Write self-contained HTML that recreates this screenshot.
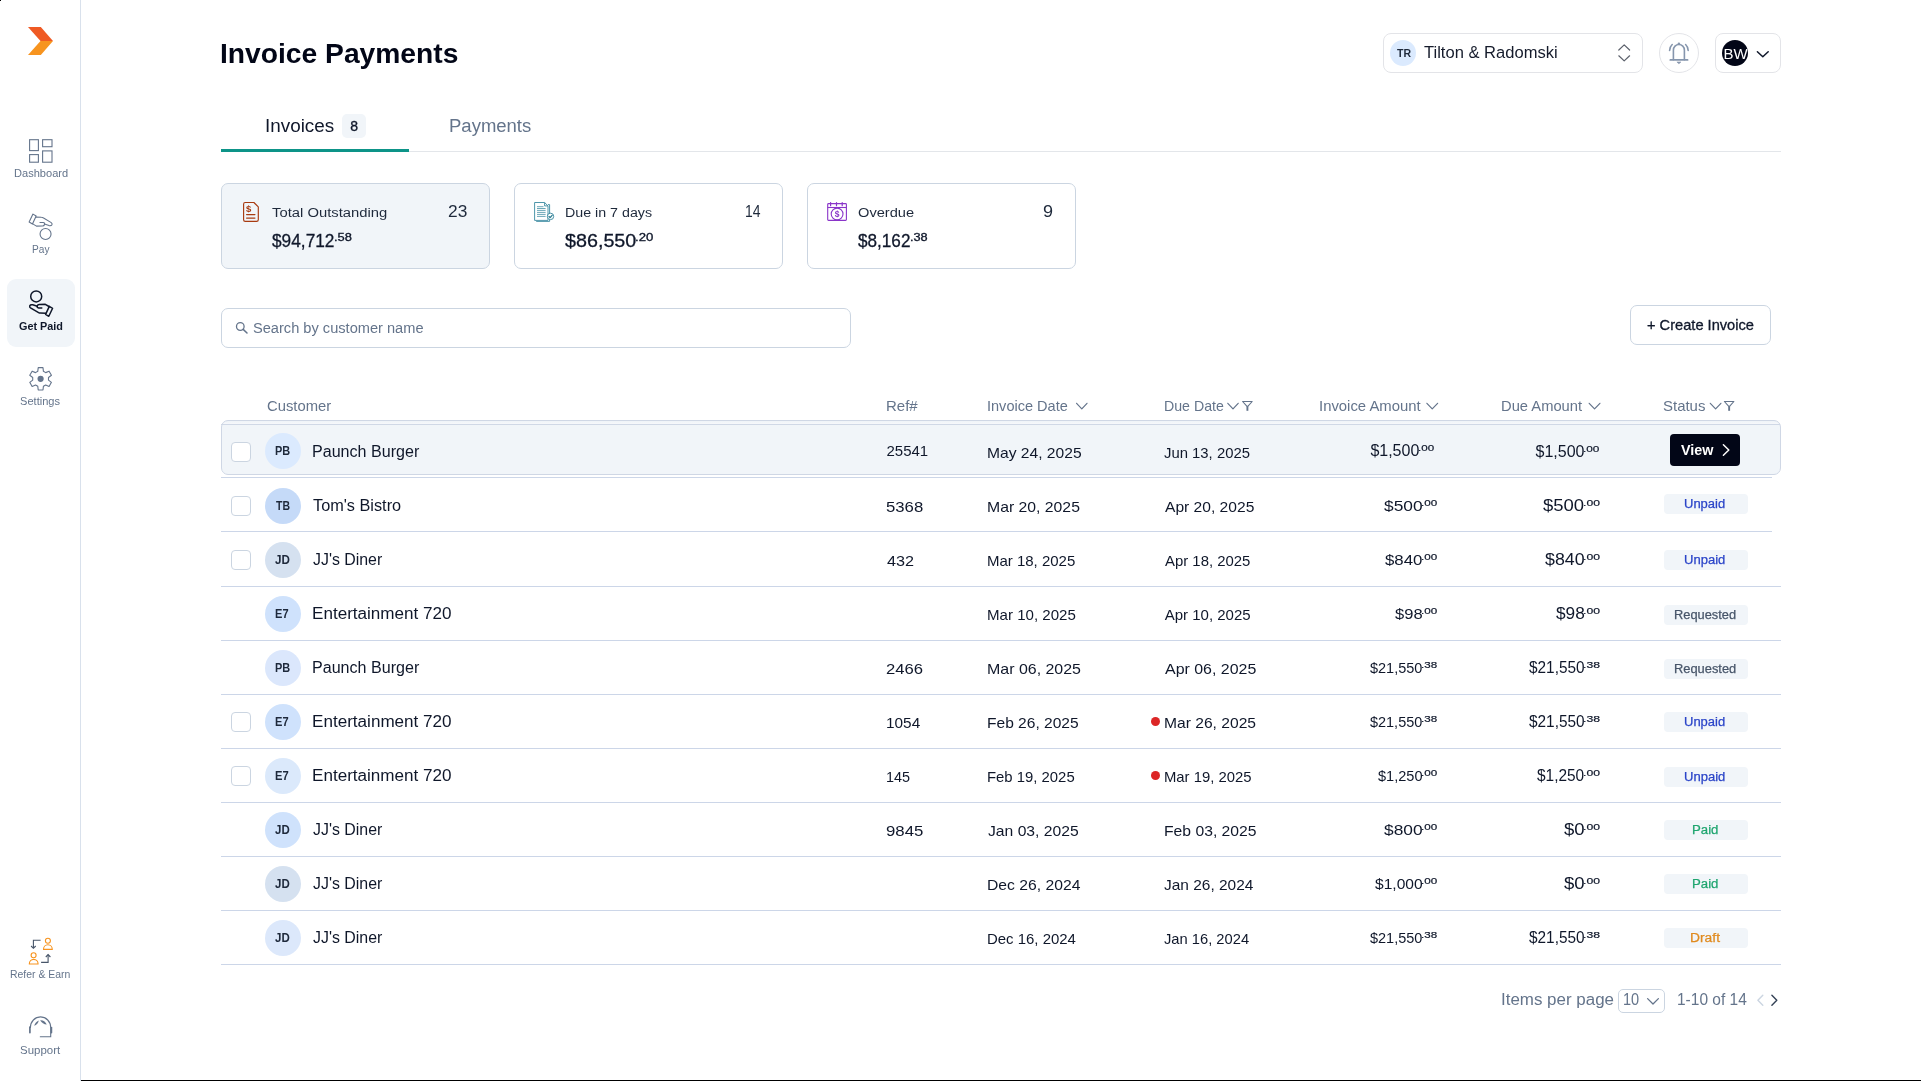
<!DOCTYPE html>
<html lang="en"><head><meta charset="utf-8"><title>Invoice Payments</title>
<style>html,body{margin:0;padding:0;background:#fff;}body{width:1921px;height:1081px;position:relative;overflow:hidden;font-family:"Liberation Sans", sans-serif;}div{box-sizing:border-box;}#app{position:absolute;left:0;top:0;width:1921px;height:1081px;will-change:transform;}</style></head><body><div id="app">
<div style="position:absolute;left:0px;top:0px;width:1px;height:1px;background:#000;"></div>
<div style="position:absolute;left:81px;top:1080px;width:1840px;height:1px;background:#000;"></div>
<div style="position:absolute;left:80px;top:0px;width:1px;height:1081px;background:#d9e1ec;"></div>
<svg style="position:absolute;left:0px;top:0px;overflow:visible" width="80" height="80" viewBox="0 0 80 80" fill="none"><polygon points="28,27 40.8,27 53,40.9 40.5,40.9" fill="#ef5a24"/><polygon points="40.5,40.9 53,40.9 40.8,55 28,55" fill="#f7941f"/></svg>
<svg style="position:absolute;left:0px;top:0px;overflow:visible" width="80" height="440" viewBox="0 0 80 440" fill="none"><g stroke="#64748b" stroke-width="1.1"><rect x="29.6" y="139.7" width="8.8" height="10.9"/><rect x="29.6" y="154.6" width="8.8" height="7.6"/><rect x="42.6" y="139.7" width="9.4" height="7"/><rect x="42.6" y="150.9" width="9.4" height="11.3"/></g><g transform="translate(40.75 227.2) rotate(180) translate(-41 -303.2)" stroke="#64748b" stroke-width="1.1" stroke-linejoin="round" stroke-linecap="round"><circle cx="36.2" cy="296.4" r="5.5"/><path d="M41.8 307.9 L38.6 307.9 Q36.7 307.6 37.2 305.9 Q37.7 304.4 39.2 304.4 L45.3 304.3 L49 306.5"/><path d="M37.3 306.3 L32.7 304.8 Q30.5 304.4 29.8 305.7 Q29.3 307 30.5 307.8 L38.6 312.6 Q39.4 313.1 40.3 313.1 L45.8 313.3"/><path d="M49.3 306.4 L52.6 308.3 L48.8 316.3 L45.6 314.4 Z"/></g></svg>
<div style="position:absolute;left:7px;top:279px;width:68px;height:68px;background:#f1f5f9;border-radius:9px;"></div>
<svg style="position:absolute;left:0px;top:0px;overflow:visible" width="80" height="440" viewBox="0 0 80 440" fill="none"><g stroke="#0f172a" stroke-width="1.5" stroke-linejoin="round" stroke-linecap="round"><circle cx="36.2" cy="296.4" r="5.5"/><path d="M41.8 307.9 L38.6 307.9 Q36.7 307.6 37.2 305.9 Q37.7 304.4 39.2 304.4 L45.3 304.3 L49 306.5"/><path d="M37.3 306.3 L32.7 304.8 Q30.5 304.4 29.8 305.7 Q29.3 307 30.5 307.8 L38.6 312.6 Q39.4 313.1 40.3 313.1 L45.8 313.3"/><path d="M49.3 306.4 L52.6 308.3 L48.8 316.3 L45.6 314.4 Z"/></g></svg>
<svg style="position:absolute;left:0px;top:0px;overflow:visible" width="80" height="440" viewBox="0 0 80 440" fill="none"><polygon points="37.78,371.31 38.22,367.65 42.98,367.65 43.42,371.31 45.67,372.62 49.07,371.17 51.44,375.28 48.49,377.50 48.49,380.10 51.44,382.32 49.07,386.43 45.67,384.98 43.42,386.29 42.98,389.95 38.22,389.95 37.78,386.29 35.53,384.98 32.13,386.43 29.76,382.32 32.71,380.10 32.71,377.50 29.76,375.28 32.13,371.17 35.53,372.62" stroke="#64748b" stroke-width="1.1" stroke-linejoin="round"/><circle cx="40.6" cy="378.8" r="3.1" fill="#64748b"/></svg>
<div style="position:absolute;left:14.04px;top:168.31px;font-size:10.5px;line-height:1;color:#64748b;white-space:nowrap;transform:scaleX(1.0535);transform-origin:0 0;">Dashboard</div>
<div style="position:absolute;left:32.32px;top:244.31px;font-size:10.5px;line-height:1;color:#64748b;white-space:nowrap;transform:scaleX(0.9641);transform-origin:0 0;">Pay</div>
<div style="position:absolute;left:19.16px;top:322.18px;font-size:10.3px;line-height:1;color:#0f172a;white-space:nowrap;font-weight:700;transform:scaleX(1.0525);transform-origin:0 0;">Get Paid</div>
<div style="position:absolute;left:20.43px;top:395.91px;font-size:10.5px;line-height:1;color:#64748b;white-space:nowrap;transform:scaleX(1.0551);transform-origin:0 0;">Settings</div>
<div style="position:absolute;left:10.36px;top:968.91px;font-size:10.5px;line-height:1;color:#64748b;white-space:nowrap;transform:scaleX(0.9934);transform-origin:0 0;">Refer &amp; Earn</div>
<div style="position:absolute;left:20.34px;top:1045.01px;font-size:10.5px;line-height:1;color:#64748b;white-space:nowrap;transform:scaleX(1.0913);transform-origin:0 0;">Support</div>
<svg style="position:absolute;left:0px;top:900px;overflow:visible" width="80" height="181" viewBox="0 900 80 181" fill="none"><g stroke="#f7931e" stroke-width="1.1"><circle cx="47.9" cy="940.8" r="2.5"/><path d="M43.5 949.4 A4.4 4.6 0 0 1 52.3 949.4 Z" stroke-linejoin="round"/><circle cx="33.6" cy="955.3" r="2.5"/><path d="M29.3 964 A4.4 4.6 0 0 1 38.1 964 Z" stroke-linejoin="round"/></g><g stroke="#475569" stroke-width="1.1"><path d="M40.6 940.3 H33.4 V948"/><path d="M31.1 946 L33.4 948.3 L35.7 946"/><path d="M41.1 962.4 H48.1 V954.7"/><path d="M45.8 957 L48.1 954.6 L50.4 957"/></g><g stroke="#64748b" stroke-width="1.1" stroke-linecap="round"><path d="M30.4 1027.5 A10.15 10.6 0 0 1 50.7 1027.5 V1036.7 H40.3"/><path d="M29.9 1027 V1032.6" stroke-width="1.7"/><path d="M51.4 1027.6 V1032.6" stroke-width="1.7"/></g><path d="M34.2 1025.8 Q35 1022 38.8 1020.4 Q38 1024 34.2 1025.8 Z" fill="#64748b"/><path d="M40.1 1020.2 Q44.5 1019.8 46.8 1024.6 Q42.5 1024.2 40.1 1020.2 Z" fill="#64748b"/></svg>
<div style="position:absolute;left:219.87px;top:39.60px;font-size:28px;line-height:1;color:#020617;white-space:nowrap;font-weight:700;transform:scaleX(1.0077);transform-origin:0 0;">Invoice Payments</div>
<div style="position:absolute;left:1383px;top:33px;width:260px;height:40px;border:1px solid #e3e4e8;border-radius:8px;background:#fff;"></div>
<div style="position:absolute;left:1390px;top:40px;width:26px;height:26px;border-radius:50%;background:#dbeafe;"></div>
<div style="position:absolute;left:1397.30px;top:47.69px;font-size:11px;line-height:1;color:#1e293b;white-space:nowrap;font-weight:700;transform:scaleX(0.9583);transform-origin:0 0;">TR</div>
<div style="position:absolute;left:1423.98px;top:44.00px;font-size:16.3px;line-height:1;color:#151b2b;white-space:nowrap;transform:scaleX(1.0163);transform-origin:0 0;">Tilton &amp; Radomski</div>
<svg style="position:absolute;left:1610px;top:40px;overflow:visible" width="30" height="26" viewBox="1610 40 30 26" fill="none"><g stroke="#5b606b" stroke-width="1.2" stroke-linecap="round" stroke-linejoin="round"><path d="M1618.8 50 L1624.2 44.9 L1629.6 50"/><path d="M1618.8 55.8 L1624.2 60.9 L1629.6 55.8"/></g></svg>
<div style="position:absolute;left:1659px;top:33px;width:40px;height:40px;border:1px solid #e3e4e8;border-radius:50%;background:#fff;"></div>
<svg style="position:absolute;left:1659px;top:33px;overflow:visible" width="40" height="40" viewBox="1659 33 40 40" fill="none"><g stroke="#8696ad" stroke-width="1.6" stroke-linecap="round" stroke-linejoin="round"><path d="M1673.4 59.8 V50.2 A5.5 5.7 0 0 1 1684.4 50.2 V59.8"/><path d="M1670.3 59.9 H1687.6" stroke-width="1.7"/><path d="M1669.6 50.4 Q1669.7 46.8 1672.2 44.5"/><path d="M1688.2 50.4 Q1688.1 46.8 1685.6 44.5"/></g><circle cx="1678.9" cy="43.6" r="1.2" fill="#8696ad"/><path d="M1676.9 62 H1680.9 L1678.9 63.8 Z" fill="#8696ad" stroke="#8696ad" stroke-width="0.6" stroke-linejoin="round"/></svg>
<div style="position:absolute;left:1715px;top:33px;width:66px;height:40px;border:1px solid #e3e4e8;border-radius:8px;background:#fff;"></div>
<div style="position:absolute;left:1721.6px;top:39.6px;width:26.2px;height:26.2px;border-radius:50%;background:#020617;overflow:hidden;"><div style="position:absolute;left:1.9px;top:6.4px;font-size:15px;line-height:1;color:#fff;white-space:nowrap;letter-spacing:0px;">BW</div></div>
<svg style="position:absolute;left:1750px;top:40px;overflow:visible" width="26" height="26" viewBox="1750 40 26 26" fill="none"><path d="M1757.4 51.7 L1762.8 56.8 L1768.2 51.7" stroke="#0f172a" stroke-width="1.5" stroke-linecap="round" stroke-linejoin="round"/></svg>
<div style="position:absolute;left:221px;top:151px;width:1560px;height:1px;background:#e3e6ea;"></div>
<div style="position:absolute;left:221px;top:149px;width:188px;height:3px;background:#0d9488;"></div>
<div style="position:absolute;left:264.82px;top:116.76px;font-size:18px;line-height:1;color:#0f172a;white-space:nowrap;transform:scaleX(1.0487);transform-origin:0 0;">Invoices</div>
<div style="position:absolute;left:342px;top:114px;width:24px;height:24px;background:#f1f5f9;border-radius:5px;"></div>
<div style="position:absolute;left:350.31px;top:119.15px;font-size:14px;line-height:1;color:#0f172a;white-space:nowrap;-webkit-text-stroke:0.35px #0f172a;">8</div>
<div style="position:absolute;left:449.36px;top:116.76px;font-size:18px;line-height:1;color:#64748b;white-space:nowrap;transform:scaleX(1.0279);transform-origin:0 0;">Payments</div>
<div style="position:absolute;left:221px;top:183px;width:269px;height:86px;border:1px solid #cbd5e1;border-radius:7px;background:#f1f5f9;"></div>
<div style="position:absolute;left:514px;top:183px;width:269px;height:86px;border:1px solid #cbd5e1;border-radius:7px;background:#fff;"></div>
<div style="position:absolute;left:807px;top:183px;width:269px;height:86px;border:1px solid #cbd5e1;border-radius:7px;background:#fff;"></div>
<svg style="position:absolute;left:240px;top:198px;overflow:visible" width="24" height="28" viewBox="240 198 24 28" fill="none"><g stroke="#a83a10" stroke-width="1.15" stroke-linejoin="round" stroke-linecap="round"><path d="M245.2 202.5 H253.9 L258.3 206.9 V219.7 Q258.3 221.4 256.6 221.4 H245.2 Q243.6 221.4 243.6 219.7 V204.2 Q243.6 202.5 245.2 202.5 Z"/><path d="M246.6 214.6 H254.9" stroke-width="1.3"/><path d="M246.6 218.1 H254.9" stroke-width="1.3"/></g></svg>
<div style="position:absolute;left:245.96px;top:203.86px;font-size:9.5px;line-height:1;color:#a83a10;white-space:nowrap;font-weight:700;">$</div>
<div style="position:absolute;left:271.64px;top:206.00px;font-size:13.7px;line-height:1;color:#1e293b;white-space:nowrap;transform:scaleX(1.0818);transform-origin:0 0;">Total Outstanding</div>
<div style="position:absolute;left:447.98px;top:204.06px;font-size:16px;line-height:1;color:#1e293b;white-space:nowrap;transform:scaleX(1.0836);transform-origin:0 0;">23</div>
<div style="position:absolute;left:272.20px;top:231.64px;font-size:18.5px;line-height:1;color:#0f172a;white-space:nowrap;transform:scaleX(0.9340);transform-origin:0 0;-webkit-text-stroke:0.3px #0f172a;">$94,712</div>
<div style="position:absolute;left:333.67px;top:233.14px;font-size:10px;line-height:1;color:#0f172a;white-space:nowrap;transform:scaleX(1.2892);transform-origin:0 0;-webkit-text-stroke:0.3px #0f172a;">.58</div>
<svg style="position:absolute;left:530px;top:198px;overflow:visible" width="26" height="28" viewBox="530 198 26 28" fill="none"><g stroke="#4590a5" stroke-width="0.95" stroke-linejoin="round"><path d="M536.2 221.4 H549.6 V204.6 H548" /><path d="M534.6 202.5 H544.6 L548 205.9 V220.4 H534.6 Z" fill="#fff"/><path d="M544.6 202.5 V205.9 H548" /><path d="M537 206.7 H543.5 M537 208.5 H545.6 M537 210.4 H545.6 M537 212.4 H545.6 M537 214.4 H545.6 M537 216.4 H545.6" stroke-width="0.8"/><circle cx="550.5" cy="216.4" r="3.2" fill="#fff" stroke-width="1.0"/><path d="M549 216.5 L550.1 217.6 L552.1 215.3" stroke="#2b7b90" stroke-width="1.25" stroke-linecap="round"/></g></svg>
<div style="position:absolute;left:564.65px;top:206.00px;font-size:13.7px;line-height:1;color:#1e293b;white-space:nowrap;transform:scaleX(1.0403);transform-origin:0 0;">Due in 7 days</div>
<div style="position:absolute;left:744.59px;top:204.06px;font-size:16px;line-height:1;color:#1e293b;white-space:nowrap;transform:scaleX(0.8717);transform-origin:0 0;">14</div>
<div style="position:absolute;left:565.18px;top:231.64px;font-size:18.5px;line-height:1;color:#0f172a;white-space:nowrap;transform:scaleX(1.0660);transform-origin:0 0;-webkit-text-stroke:0.3px #0f172a;">$86,550</div>
<div style="position:absolute;left:634.85px;top:233.14px;font-size:10px;line-height:1;color:#0f172a;white-space:nowrap;transform:scaleX(1.3159);transform-origin:0 0;-webkit-text-stroke:0.3px #0f172a;">.20</div>
<svg style="position:absolute;left:824px;top:198px;overflow:visible" width="26" height="28" viewBox="824 198 26 28" fill="none"><g stroke="#8a35c9" stroke-width="1.1" stroke-linejoin="round"><rect x="827.7" y="203.6" width="18.7" height="16.8" rx="0.8"/><path d="M827.7 207.5 H846.4"/><path d="M830.6 202.5 V205.7 M836.5 202.5 V205.7 M842.2 202.5 V205.7" stroke-linecap="round" stroke-width="1.2"/><circle cx="837.1" cy="214" r="5.9"/></g></svg>
<div style="position:absolute;left:834.74px;top:209.90px;font-size:8.5px;line-height:1;color:#8a35c9;white-space:nowrap;font-weight:700;">$</div>
<div style="position:absolute;left:857.89px;top:206.00px;font-size:13.7px;line-height:1;color:#1e293b;white-space:nowrap;transform:scaleX(1.0685);transform-origin:0 0;">Overdue</div>
<div style="position:absolute;left:1043.27px;top:204.06px;font-size:16px;line-height:1;color:#1e293b;white-space:nowrap;transform:scaleX(1.1268);transform-origin:0 0;">9</div>
<div style="position:absolute;left:858.46px;top:231.64px;font-size:18.5px;line-height:1;color:#0f172a;white-space:nowrap;transform:scaleX(0.9269);transform-origin:0 0;-webkit-text-stroke:0.3px #0f172a;">$8,162</div>
<div style="position:absolute;left:909.88px;top:233.14px;font-size:10px;line-height:1;color:#0f172a;white-space:nowrap;transform:scaleX(1.2711);transform-origin:0 0;-webkit-text-stroke:0.3px #0f172a;">.38</div>
<div style="position:absolute;left:221px;top:308px;width:630px;height:40px;border:1px solid #cbd5e1;border-radius:7px;background:#fff;"></div>
<svg style="position:absolute;left:232px;top:318px;overflow:visible" width="20" height="20" viewBox="232 318 20 20" fill="none"><circle cx="240.3" cy="326.5" r="3.8" stroke="#64748b" stroke-width="1.3"/><path d="M243.2 329.4 L247.0 333.0" stroke="#64748b" stroke-width="1.5" stroke-linecap="round"/></svg>
<div style="position:absolute;left:252.98px;top:320.95px;font-size:14px;line-height:1;color:#64748b;white-space:nowrap;transform:scaleX(1.0437);transform-origin:0 0;">Search by customer name</div>
<div style="position:absolute;left:1630px;top:305px;width:141px;height:40px;border:1px solid #cbd5e1;border-radius:7px;background:#fff;"></div>
<div style="position:absolute;left:1647.07px;top:318.08px;font-size:14.2px;line-height:1;color:#0f172a;white-space:nowrap;transform:scaleX(1.0313);transform-origin:0 0;-webkit-text-stroke:0.3px #0f172a;">+ Create Invoice</div>
<div style="position:absolute;left:267.22px;top:398.90px;font-size:14.3px;line-height:1;color:#64748b;white-space:nowrap;transform:scaleX(1.0355);transform-origin:0 0;">Customer</div>
<div style="position:absolute;left:886.25px;top:398.90px;font-size:14.3px;line-height:1;color:#64748b;white-space:nowrap;transform:scaleX(1.0491);transform-origin:0 0;">Ref#</div>
<div style="position:absolute;left:987.38px;top:398.90px;font-size:14.3px;line-height:1;color:#64748b;white-space:nowrap;transform:scaleX(1.0163);transform-origin:0 0;">Invoice Date</div>
<div style="position:absolute;left:1163.85px;top:398.90px;font-size:14.3px;line-height:1;color:#64748b;white-space:nowrap;transform:scaleX(0.9911);transform-origin:0 0;">Due Date</div>
<div style="position:absolute;left:1319.37px;top:398.90px;font-size:14.3px;line-height:1;color:#64748b;white-space:nowrap;transform:scaleX(1.0398);transform-origin:0 0;">Invoice Amount</div>
<div style="position:absolute;left:1500.67px;top:398.90px;font-size:14.3px;line-height:1;color:#64748b;white-space:nowrap;transform:scaleX(1.0305);transform-origin:0 0;">Due Amount</div>
<div style="position:absolute;left:1663.40px;top:398.90px;font-size:14.3px;line-height:1;color:#64748b;white-space:nowrap;transform:scaleX(1.0465);transform-origin:0 0;">Status</div>
<svg style="position:absolute;left:221px;top:395px;overflow:visible" width="1560" height="25" viewBox="221 395 1560 25" fill="none"><path d="M1076.6 403.3 L1081.8 408.9 L1087.0 403.3" stroke="#64748b" stroke-width="1.2" stroke-linecap="round" stroke-linejoin="round"/><path d="M1227.8 403.3 L1233.0 408.9 L1238.2 403.3" stroke="#64748b" stroke-width="1.2" stroke-linecap="round" stroke-linejoin="round"/><path d="M1242.6 401.5 H1252.2 L1248.0 406.2 H1246.8000000000002 Z" stroke="#64748b" stroke-width="1.1" stroke-linejoin="round"/><path d="M1247.4 406.2 V410.8" stroke="#64748b" stroke-width="1.9"/><path d="M1426.9 403.3 L1432.25 408.9 L1437.6 403.3" stroke="#64748b" stroke-width="1.2" stroke-linecap="round" stroke-linejoin="round"/><path d="M1589.2 403.3 L1594.5500000000002 408.9 L1599.9 403.3" stroke="#64748b" stroke-width="1.2" stroke-linecap="round" stroke-linejoin="round"/><path d="M1710.3 403.3 L1715.6 408.9 L1720.9 403.3" stroke="#64748b" stroke-width="1.2" stroke-linecap="round" stroke-linejoin="round"/><path d="M1724.4 401.5 H1733.9 L1729.75 406.2 H1728.5500000000002 Z" stroke="#64748b" stroke-width="1.1" stroke-linejoin="round"/><path d="M1729.15 406.2 V410.8" stroke="#64748b" stroke-width="1.9"/></svg>
<div style="position:absolute;left:221px;top:420px;width:1560px;height:55px;border:1px solid #cfd7e5;border-radius:7px;background:linear-gradient(to bottom,#eff3f8 0px,#f6f8fb 3px,#f1f5f9 3px);"></div>
<div style="position:absolute;left:221px;top:424px;width:1559px;height:1px;background:#d0d8e6;"></div>
<div style="position:absolute;left:221px;top:477px;width:1551px;height:1px;background:#ccd6e8;"></div>
<div style="position:absolute;left:221px;top:531px;width:1551px;height:1px;background:#ccd6e8;"></div>
<div style="position:absolute;left:221px;top:586px;width:1560px;height:1px;background:#ccd6e8;"></div>
<div style="position:absolute;left:221px;top:640px;width:1560px;height:1px;background:#ccd6e8;"></div>
<div style="position:absolute;left:221px;top:694px;width:1560px;height:1px;background:#ccd6e8;"></div>
<div style="position:absolute;left:221px;top:748px;width:1560px;height:1px;background:#ccd6e8;"></div>
<div style="position:absolute;left:221px;top:802px;width:1560px;height:1px;background:#ccd6e8;"></div>
<div style="position:absolute;left:221px;top:856px;width:1560px;height:1px;background:#ccd6e8;"></div>
<div style="position:absolute;left:221px;top:910px;width:1560px;height:1px;background:#ccd6e8;"></div>
<div style="position:absolute;left:221px;top:964px;width:1560px;height:1px;background:#ccd6e8;"></div>
<div style="position:absolute;left:231px;top:441.8px;width:20px;height:20px;border:1px solid #cbd5e1;border-radius:4px;background:#fff;"></div>
<div style="position:absolute;left:264.6px;top:433px;width:36px;height:36px;border-radius:50%;background:#dbeafe;"></div>
<div style="position:absolute;left:275.31px;top:445.34px;font-size:12px;line-height:1;color:#1e293b;white-space:nowrap;font-weight:700;transform:scaleX(0.9109);transform-origin:0 0;">PB</div>
<div style="position:absolute;left:312.12px;top:443.56px;font-size:16px;line-height:1;color:#0f172a;white-space:nowrap;transform:scaleX(1.0047);transform-origin:0 0;">Paunch Burger</div>
<div style="position:absolute;left:886.51px;top:443.20px;font-size:15px;line-height:1;color:#0f172a;white-space:nowrap;">25541</div>
<div style="position:absolute;left:986.99px;top:444.80px;font-size:15px;line-height:1;color:#0f172a;white-space:nowrap;transform:scaleX(1.0406);transform-origin:0 0;">May 24, 2025</div>
<div style="position:absolute;left:1164.44px;top:444.80px;font-size:15px;line-height:1;color:#0f172a;white-space:nowrap;transform:scaleX(0.9907);transform-origin:0 0;">Jun 13, 2025</div>
<div style="position:absolute;left:1370.39px;top:443.26px;font-size:16px;line-height:1;color:#0f172a;white-space:nowrap;">$1,500</div>
<div style="position:absolute;left:1418.15px;top:442.86px;font-size:9.5px;line-height:1;color:#0f172a;white-space:nowrap;transform:scaleX(1.2208);transform-origin:0 0;-webkit-text-stroke:0.2px #0f172a;">.00</div>
<div style="position:absolute;left:1535.49px;top:443.56px;font-size:16px;line-height:1;color:#0f172a;white-space:nowrap;">$1,500</div>
<div style="position:absolute;left:1582.83px;top:443.96px;font-size:9.5px;line-height:1;color:#0f172a;white-space:nowrap;transform:scaleX(1.2422);transform-origin:0 0;-webkit-text-stroke:0.2px #0f172a;">.00</div>
<div style="position:absolute;left:1670px;top:434px;width:70px;height:32px;background:#020617;border-radius:4px;"></div>
<div style="position:absolute;left:1681.13px;top:443.15px;font-size:14px;line-height:1;color:#fff;white-space:nowrap;font-weight:700;transform:scaleX(1.0240);transform-origin:0 0;">View</div>
<svg style="position:absolute;left:1718px;top:440px;overflow:visible" width="16" height="20" viewBox="1718 440 16 20" fill="none"><path d="M1723.4 444.8 L1728.8 450 L1723.4 455.2" stroke="#fff" stroke-width="1.5" stroke-linecap="round" stroke-linejoin="round"/></svg>
<div style="position:absolute;left:231px;top:495.8px;width:20px;height:20px;border:1px solid #cbd5e1;border-radius:4px;background:#fff;"></div>
<div style="position:absolute;left:264.6px;top:487.9px;width:36px;height:36px;border-radius:50%;background:#c5daf8;"></div>
<div style="position:absolute;left:276.32px;top:500.04px;font-size:12px;line-height:1;color:#1e293b;white-space:nowrap;font-weight:700;transform:scaleX(0.8728);transform-origin:0 0;">TB</div>
<div style="position:absolute;left:312.61px;top:497.56px;font-size:16px;line-height:1;color:#0f172a;white-space:nowrap;transform:scaleX(1.0170);transform-origin:0 0;">Tom's Bistro</div>
<div style="position:absolute;left:886.06px;top:498.80px;font-size:15px;line-height:1;color:#0f172a;white-space:nowrap;transform:scaleX(1.1151);transform-origin:0 0;">5368</div>
<div style="position:absolute;left:986.95px;top:498.80px;font-size:15px;line-height:1;color:#0f172a;white-space:nowrap;transform:scaleX(1.0510);transform-origin:0 0;">Mar 20, 2025</div>
<div style="position:absolute;left:1164.80px;top:498.80px;font-size:15px;line-height:1;color:#0f172a;white-space:nowrap;transform:scaleX(1.0396);transform-origin:0 0;">Apr 20, 2025</div>
<div style="position:absolute;left:1384.29px;top:497.50px;font-size:15px;line-height:1;color:#0f172a;white-space:nowrap;transform:scaleX(1.1562);transform-origin:0 0;">$500</div>
<div style="position:absolute;left:1420.83px;top:499.18px;font-size:9px;line-height:1;color:#0f172a;white-space:nowrap;transform:scaleX(1.2927);transform-origin:0 0;-webkit-text-stroke:0.2px #0f172a;">.00</div>
<div style="position:absolute;left:1543.24px;top:497.66px;font-size:16px;line-height:1;color:#0f172a;white-space:nowrap;transform:scaleX(1.1559);transform-origin:0 0;">$500</div>
<div style="position:absolute;left:1582.71px;top:498.06px;font-size:9.5px;line-height:1;color:#0f172a;white-space:nowrap;transform:scaleX(1.2790);transform-origin:0 0;-webkit-text-stroke:0.2px #0f172a;">.00</div>
<div style="position:absolute;left:1664px;top:494px;width:84px;height:20px;background:#f1f5f9;border-radius:4px;"></div>
<div style="position:absolute;left:1684.17px;top:497.52px;font-size:12.5px;line-height:1;color:#2a44c8;white-space:nowrap;transform:scaleX(1.0400);transform-origin:0 0;-webkit-text-stroke:0.25px #2a44c8;">Unpaid</div>
<div style="position:absolute;left:231px;top:549.8px;width:20px;height:20px;border:1px solid #cbd5e1;border-radius:4px;background:#fff;"></div>
<div style="position:absolute;left:264.6px;top:541.9px;width:36px;height:36px;border-radius:50%;background:#d5e1f0;"></div>
<div style="position:absolute;left:275.21px;top:554.04px;font-size:12px;line-height:1;color:#1e293b;white-space:nowrap;font-weight:700;transform:scaleX(0.9712);transform-origin:0 0;">JD</div>
<div style="position:absolute;left:313.06px;top:551.56px;font-size:16px;line-height:1;color:#0f172a;white-space:nowrap;transform:scaleX(0.9930);transform-origin:0 0;">JJ's Diner</div>
<div style="position:absolute;left:887.08px;top:552.80px;font-size:15px;line-height:1;color:#0f172a;white-space:nowrap;transform:scaleX(1.0801);transform-origin:0 0;">432</div>
<div style="position:absolute;left:986.92px;top:552.80px;font-size:15px;line-height:1;color:#0f172a;white-space:nowrap;">Mar 18, 2025</div>
<div style="position:absolute;left:1165.01px;top:552.80px;font-size:15px;line-height:1;color:#0f172a;white-space:nowrap;transform:scaleX(0.9941);transform-origin:0 0;">Apr 18, 2025</div>
<div style="position:absolute;left:1385.06px;top:551.50px;font-size:15px;line-height:1;color:#0f172a;white-space:nowrap;transform:scaleX(1.1207);transform-origin:0 0;">$840</div>
<div style="position:absolute;left:1420.83px;top:553.18px;font-size:9px;line-height:1;color:#0f172a;white-space:nowrap;transform:scaleX(1.2927);transform-origin:0 0;-webkit-text-stroke:0.2px #0f172a;">.00</div>
<div style="position:absolute;left:1544.63px;top:551.66px;font-size:16px;line-height:1;color:#0f172a;white-space:nowrap;transform:scaleX(1.1114);transform-origin:0 0;">$840</div>
<div style="position:absolute;left:1582.71px;top:552.06px;font-size:9.5px;line-height:1;color:#0f172a;white-space:nowrap;transform:scaleX(1.2823);transform-origin:0 0;-webkit-text-stroke:0.2px #0f172a;">.00</div>
<div style="position:absolute;left:1664px;top:550px;width:84px;height:20px;background:#f1f5f9;border-radius:4px;"></div>
<div style="position:absolute;left:1684.37px;top:553.52px;font-size:12.5px;line-height:1;color:#2a44c8;white-space:nowrap;transform:scaleX(1.0427);transform-origin:0 0;-webkit-text-stroke:0.25px #2a44c8;">Unpaid</div>
<div style="position:absolute;left:264.6px;top:595.9px;width:36px;height:36px;border-radius:50%;background:#cfe2fc;"></div>
<div style="position:absolute;left:274.76px;top:608.04px;font-size:12px;line-height:1;color:#1e293b;white-space:nowrap;font-weight:700;transform:scaleX(0.9215);transform-origin:0 0;">E7</div>
<div style="position:absolute;left:311.88px;top:605.56px;font-size:16px;line-height:1;color:#0f172a;white-space:nowrap;transform:scaleX(1.0677);transform-origin:0 0;">Entertainment 720</div>
<div style="position:absolute;left:987.12px;top:606.80px;font-size:15px;line-height:1;color:#0f172a;white-space:nowrap;transform:scaleX(1.0047);transform-origin:0 0;">Mar 10, 2025</div>
<div style="position:absolute;left:1164.72px;top:606.80px;font-size:15px;line-height:1;color:#0f172a;white-space:nowrap;">Apr 10, 2025</div>
<div style="position:absolute;left:1395.22px;top:605.50px;font-size:15px;line-height:1;color:#0f172a;white-space:nowrap;transform:scaleX(1.1030);transform-origin:0 0;">$98</div>
<div style="position:absolute;left:1420.83px;top:607.18px;font-size:9px;line-height:1;color:#0f172a;white-space:nowrap;transform:scaleX(1.2927);transform-origin:0 0;-webkit-text-stroke:0.2px #0f172a;">.00</div>
<div style="position:absolute;left:1556.04px;top:605.66px;font-size:16px;line-height:1;color:#0f172a;white-space:nowrap;transform:scaleX(1.0785);transform-origin:0 0;">$98</div>
<div style="position:absolute;left:1582.71px;top:606.06px;font-size:9.5px;line-height:1;color:#0f172a;white-space:nowrap;transform:scaleX(1.2823);transform-origin:0 0;-webkit-text-stroke:0.2px #0f172a;">.00</div>
<div style="position:absolute;left:1664px;top:605px;width:84px;height:20px;background:#f1f5f9;border-radius:4px;"></div>
<div style="position:absolute;left:1673.81px;top:608.52px;font-size:12.5px;line-height:1;color:#475569;white-space:nowrap;transform:scaleX(1.0268);transform-origin:0 0;-webkit-text-stroke:0.25px #475569;">Requested</div>
<div style="position:absolute;left:264.6px;top:649.9px;width:36px;height:36px;border-radius:50%;background:#dbe7fc;"></div>
<div style="position:absolute;left:275.31px;top:662.04px;font-size:12px;line-height:1;color:#1e293b;white-space:nowrap;font-weight:700;transform:scaleX(0.9109);transform-origin:0 0;">PB</div>
<div style="position:absolute;left:312.12px;top:659.56px;font-size:16px;line-height:1;color:#0f172a;white-space:nowrap;transform:scaleX(1.0047);transform-origin:0 0;">Paunch Burger</div>
<div style="position:absolute;left:885.97px;top:660.80px;font-size:15px;line-height:1;color:#0f172a;white-space:nowrap;transform:scaleX(1.1091);transform-origin:0 0;">2466</div>
<div style="position:absolute;left:987.01px;top:660.80px;font-size:15px;line-height:1;color:#0f172a;white-space:nowrap;transform:scaleX(1.0633);transform-origin:0 0;">Mar 06, 2025</div>
<div style="position:absolute;left:1164.54px;top:660.80px;font-size:15px;line-height:1;color:#0f172a;white-space:nowrap;transform:scaleX(1.0623);transform-origin:0 0;">Apr 06, 2025</div>
<div style="position:absolute;left:1369.92px;top:659.50px;font-size:15px;line-height:1;color:#0f172a;white-space:nowrap;transform:scaleX(0.9656);transform-origin:0 0;">$21,550</div>
<div style="position:absolute;left:1420.83px;top:661.18px;font-size:9px;line-height:1;color:#0f172a;white-space:nowrap;transform:scaleX(1.2927);transform-origin:0 0;-webkit-text-stroke:0.2px #0f172a;">.38</div>
<div style="position:absolute;left:1528.71px;top:659.66px;font-size:16px;line-height:1;color:#0f172a;white-space:nowrap;transform:scaleX(0.9600);transform-origin:0 0;">$21,550</div>
<div style="position:absolute;left:1582.72px;top:660.06px;font-size:9.5px;line-height:1;color:#0f172a;white-space:nowrap;transform:scaleX(1.2822);transform-origin:0 0;-webkit-text-stroke:0.2px #0f172a;">.38</div>
<div style="position:absolute;left:1664px;top:659px;width:84px;height:20px;background:#f1f5f9;border-radius:4px;"></div>
<div style="position:absolute;left:1674.07px;top:662.52px;font-size:12.5px;line-height:1;color:#475569;white-space:nowrap;transform:scaleX(1.0291);transform-origin:0 0;-webkit-text-stroke:0.25px #475569;">Requested</div>
<div style="position:absolute;left:231px;top:711.8px;width:20px;height:20px;border:1px solid #cbd5e1;border-radius:4px;background:#fff;"></div>
<div style="position:absolute;left:264.6px;top:703.9px;width:36px;height:36px;border-radius:50%;background:#cfe2fc;"></div>
<div style="position:absolute;left:274.69px;top:716.04px;font-size:12px;line-height:1;color:#1e293b;white-space:nowrap;font-weight:700;transform:scaleX(0.9237);transform-origin:0 0;">E7</div>
<div style="position:absolute;left:312.28px;top:713.56px;font-size:16px;line-height:1;color:#0f172a;white-space:nowrap;transform:scaleX(1.0678);transform-origin:0 0;">Entertainment 720</div>
<div style="position:absolute;left:886.32px;top:714.80px;font-size:15px;line-height:1;color:#0f172a;white-space:nowrap;transform:scaleX(1.0247);transform-origin:0 0;">1054</div>
<div style="position:absolute;left:987.11px;top:714.80px;font-size:15px;line-height:1;color:#0f172a;white-space:nowrap;transform:scaleX(1.0368);transform-origin:0 0;">Feb 26, 2025</div>
<div style="position:absolute;left:1163.85px;top:714.80px;font-size:15px;line-height:1;color:#0f172a;white-space:nowrap;transform:scaleX(1.0408);transform-origin:0 0;">Mar 26, 2025</div>
<div style="position:absolute;left:1151px;top:717.4px;width:9px;height:9px;border-radius:50%;background:#dc2626;"></div>
<div style="position:absolute;left:1369.97px;top:713.50px;font-size:15px;line-height:1;color:#0f172a;white-space:nowrap;transform:scaleX(0.9638);transform-origin:0 0;">$21,550</div>
<div style="position:absolute;left:1420.83px;top:715.18px;font-size:9px;line-height:1;color:#0f172a;white-space:nowrap;transform:scaleX(1.2927);transform-origin:0 0;-webkit-text-stroke:0.2px #0f172a;">.38</div>
<div style="position:absolute;left:1529.06px;top:713.66px;font-size:16px;line-height:1;color:#0f172a;white-space:nowrap;transform:scaleX(0.9606);transform-origin:0 0;">$21,550</div>
<div style="position:absolute;left:1582.91px;top:714.06px;font-size:9.5px;line-height:1;color:#0f172a;white-space:nowrap;transform:scaleX(1.2879);transform-origin:0 0;-webkit-text-stroke:0.2px #0f172a;">.38</div>
<div style="position:absolute;left:1664px;top:712px;width:84px;height:20px;background:#f1f5f9;border-radius:4px;"></div>
<div style="position:absolute;left:1684.17px;top:715.52px;font-size:12.5px;line-height:1;color:#2a44c8;white-space:nowrap;transform:scaleX(1.0400);transform-origin:0 0;-webkit-text-stroke:0.25px #2a44c8;">Unpaid</div>
<div style="position:absolute;left:231px;top:765.8px;width:20px;height:20px;border:1px solid #cbd5e1;border-radius:4px;background:#fff;"></div>
<div style="position:absolute;left:264.6px;top:757.9px;width:36px;height:36px;border-radius:50%;background:#dbe9fb;"></div>
<div style="position:absolute;left:274.55px;top:770.04px;font-size:12px;line-height:1;color:#1e293b;white-space:nowrap;font-weight:700;transform:scaleX(0.9331);transform-origin:0 0;">E7</div>
<div style="position:absolute;left:311.91px;top:767.56px;font-size:16px;line-height:1;color:#0f172a;white-space:nowrap;transform:scaleX(1.0675);transform-origin:0 0;">Entertainment 720</div>
<div style="position:absolute;left:885.70px;top:768.80px;font-size:15px;line-height:1;color:#0f172a;white-space:nowrap;transform:scaleX(0.9608);transform-origin:0 0;">145</div>
<div style="position:absolute;left:987.17px;top:768.80px;font-size:15px;line-height:1;color:#0f172a;white-space:nowrap;transform:scaleX(0.9916);transform-origin:0 0;">Feb 19, 2025</div>
<div style="position:absolute;left:1163.64px;top:768.80px;font-size:15px;line-height:1;color:#0f172a;white-space:nowrap;transform:scaleX(0.9898);transform-origin:0 0;">Mar 19, 2025</div>
<div style="position:absolute;left:1151px;top:771.4px;width:9px;height:9px;border-radius:50%;background:#dc2626;"></div>
<div style="position:absolute;left:1377.59px;top:767.50px;font-size:15px;line-height:1;color:#0f172a;white-space:nowrap;transform:scaleX(0.9701);transform-origin:0 0;">$1,250</div>
<div style="position:absolute;left:1420.83px;top:769.18px;font-size:9px;line-height:1;color:#0f172a;white-space:nowrap;transform:scaleX(1.2927);transform-origin:0 0;-webkit-text-stroke:0.2px #0f172a;">.00</div>
<div style="position:absolute;left:1537.33px;top:767.66px;font-size:16px;line-height:1;color:#0f172a;white-space:nowrap;transform:scaleX(0.9639);transform-origin:0 0;">$1,250</div>
<div style="position:absolute;left:1582.71px;top:768.06px;font-size:9.5px;line-height:1;color:#0f172a;white-space:nowrap;transform:scaleX(1.2823);transform-origin:0 0;-webkit-text-stroke:0.2px #0f172a;">.00</div>
<div style="position:absolute;left:1664px;top:767px;width:84px;height:20px;background:#f1f5f9;border-radius:4px;"></div>
<div style="position:absolute;left:1684.37px;top:770.52px;font-size:12.5px;line-height:1;color:#2a44c8;white-space:nowrap;transform:scaleX(1.0427);transform-origin:0 0;-webkit-text-stroke:0.25px #2a44c8;">Unpaid</div>
<div style="position:absolute;left:264.6px;top:811.9px;width:36px;height:36px;border-radius:50%;background:#cfe2fc;"></div>
<div style="position:absolute;left:274.77px;top:824.04px;font-size:12px;line-height:1;color:#1e293b;white-space:nowrap;font-weight:700;transform:scaleX(0.9564);transform-origin:0 0;">JD</div>
<div style="position:absolute;left:313.04px;top:821.56px;font-size:16px;line-height:1;color:#0f172a;white-space:nowrap;transform:scaleX(0.9936);transform-origin:0 0;">JJ's Diner</div>
<div style="position:absolute;left:885.86px;top:822.80px;font-size:15px;line-height:1;color:#0f172a;white-space:nowrap;transform:scaleX(1.1180);transform-origin:0 0;">9845</div>
<div style="position:absolute;left:987.82px;top:822.80px;font-size:15px;line-height:1;color:#0f172a;white-space:nowrap;transform:scaleX(1.0453);transform-origin:0 0;">Jan 03, 2025</div>
<div style="position:absolute;left:1163.97px;top:822.80px;font-size:15px;line-height:1;color:#0f172a;white-space:nowrap;transform:scaleX(1.0470);transform-origin:0 0;">Feb 03, 2025</div>
<div style="position:absolute;left:1383.63px;top:821.50px;font-size:15px;line-height:1;color:#0f172a;white-space:nowrap;transform:scaleX(1.1548);transform-origin:0 0;">$800</div>
<div style="position:absolute;left:1420.83px;top:823.18px;font-size:9px;line-height:1;color:#0f172a;white-space:nowrap;transform:scaleX(1.2927);transform-origin:0 0;-webkit-text-stroke:0.2px #0f172a;">.00</div>
<div style="position:absolute;left:1563.84px;top:821.66px;font-size:16px;line-height:1;color:#0f172a;white-space:nowrap;transform:scaleX(1.1587);transform-origin:0 0;">$0</div>
<div style="position:absolute;left:1583.12px;top:822.06px;font-size:9.5px;line-height:1;color:#0f172a;white-space:nowrap;transform:scaleX(1.2835);transform-origin:0 0;-webkit-text-stroke:0.2px #0f172a;">.00</div>
<div style="position:absolute;left:1664px;top:820px;width:84px;height:20px;background:#f1f5f9;border-radius:4px;"></div>
<div style="position:absolute;left:1692.33px;top:823.52px;font-size:12.5px;line-height:1;color:#1fa56f;white-space:nowrap;transform:scaleX(1.0559);transform-origin:0 0;-webkit-text-stroke:0.25px #1fa56f;">Paid</div>
<div style="position:absolute;left:264.6px;top:865.9px;width:36px;height:36px;border-radius:50%;background:#d5e1f0;"></div>
<div style="position:absolute;left:274.76px;top:878.04px;font-size:12px;line-height:1;color:#1e293b;white-space:nowrap;font-weight:700;transform:scaleX(0.9590);transform-origin:0 0;">JD</div>
<div style="position:absolute;left:313.02px;top:875.56px;font-size:16px;line-height:1;color:#0f172a;white-space:nowrap;transform:scaleX(0.9943);transform-origin:0 0;">JJ's Diner</div>
<div style="position:absolute;left:987.11px;top:876.80px;font-size:15px;line-height:1;color:#0f172a;white-space:nowrap;transform:scaleX(1.0464);transform-origin:0 0;">Dec 26, 2024</div>
<div style="position:absolute;left:1164.20px;top:876.80px;font-size:15px;line-height:1;color:#0f172a;white-space:nowrap;transform:scaleX(1.0298);transform-origin:0 0;">Jan 26, 2024</div>
<div style="position:absolute;left:1375.44px;top:875.50px;font-size:15px;line-height:1;color:#0f172a;white-space:nowrap;transform:scaleX(1.0373);transform-origin:0 0;">$1,000</div>
<div style="position:absolute;left:1420.83px;top:877.18px;font-size:9px;line-height:1;color:#0f172a;white-space:nowrap;transform:scaleX(1.2927);transform-origin:0 0;-webkit-text-stroke:0.2px #0f172a;">.00</div>
<div style="position:absolute;left:1563.84px;top:875.66px;font-size:16px;line-height:1;color:#0f172a;white-space:nowrap;transform:scaleX(1.1587);transform-origin:0 0;">$0</div>
<div style="position:absolute;left:1583.12px;top:876.06px;font-size:9.5px;line-height:1;color:#0f172a;white-space:nowrap;transform:scaleX(1.2835);transform-origin:0 0;-webkit-text-stroke:0.2px #0f172a;">.00</div>
<div style="position:absolute;left:1664px;top:874px;width:84px;height:20px;background:#f1f5f9;border-radius:4px;"></div>
<div style="position:absolute;left:1692.33px;top:877.52px;font-size:12.5px;line-height:1;color:#1fa56f;white-space:nowrap;transform:scaleX(1.0559);transform-origin:0 0;-webkit-text-stroke:0.25px #1fa56f;">Paid</div>
<div style="position:absolute;left:264.6px;top:919.9px;width:36px;height:36px;border-radius:50%;background:#dce8fb;"></div>
<div style="position:absolute;left:274.76px;top:932.04px;font-size:12px;line-height:1;color:#1e293b;white-space:nowrap;font-weight:700;transform:scaleX(0.9590);transform-origin:0 0;">JD</div>
<div style="position:absolute;left:313.02px;top:929.56px;font-size:16px;line-height:1;color:#0f172a;white-space:nowrap;transform:scaleX(0.9943);transform-origin:0 0;">JJ's Diner</div>
<div style="position:absolute;left:987.22px;top:930.80px;font-size:15px;line-height:1;color:#0f172a;white-space:nowrap;transform:scaleX(0.9966);transform-origin:0 0;">Dec 16, 2024</div>
<div style="position:absolute;left:1164.02px;top:930.80px;font-size:15px;line-height:1;color:#0f172a;white-space:nowrap;transform:scaleX(0.9809);transform-origin:0 0;">Jan 16, 2024</div>
<div style="position:absolute;left:1369.92px;top:929.50px;font-size:15px;line-height:1;color:#0f172a;white-space:nowrap;transform:scaleX(0.9656);transform-origin:0 0;">$21,550</div>
<div style="position:absolute;left:1420.83px;top:931.18px;font-size:9px;line-height:1;color:#0f172a;white-space:nowrap;transform:scaleX(1.2927);transform-origin:0 0;-webkit-text-stroke:0.2px #0f172a;">.38</div>
<div style="position:absolute;left:1528.71px;top:929.66px;font-size:16px;line-height:1;color:#0f172a;white-space:nowrap;transform:scaleX(0.9600);transform-origin:0 0;">$21,550</div>
<div style="position:absolute;left:1582.72px;top:930.06px;font-size:9.5px;line-height:1;color:#0f172a;white-space:nowrap;transform:scaleX(1.2822);transform-origin:0 0;-webkit-text-stroke:0.2px #0f172a;">.38</div>
<div style="position:absolute;left:1664px;top:928px;width:84px;height:20px;background:#f1f5f9;border-radius:4px;"></div>
<div style="position:absolute;left:1689.63px;top:931.52px;font-size:12.5px;line-height:1;color:#e08a1e;white-space:nowrap;transform:scaleX(1.1077);transform-origin:0 0;-webkit-text-stroke:0.25px #e08a1e;">Draft</div>
<div style="position:absolute;left:1500.61px;top:992.13px;font-size:15.8px;line-height:1;color:#64748b;white-space:nowrap;transform:scaleX(1.0723);transform-origin:0 0;">Items per page</div>
<div style="position:absolute;left:1618px;top:989px;width:47px;height:24px;border:1px solid #cbd5e1;border-radius:5px;background:#fff;"></div>
<div style="position:absolute;left:1622.72px;top:992.13px;font-size:15.8px;line-height:1;color:#64748b;white-space:nowrap;transform:scaleX(0.9206);transform-origin:0 0;">10</div>
<svg style="position:absolute;left:1640px;top:990px;overflow:visible" width="24" height="22" viewBox="1640 990 24 22" fill="none"><path d="M1647.6 998.6 L1653.0 1004.0 L1658.4 998.6" stroke="#64748b" stroke-width="1.3" stroke-linecap="round" stroke-linejoin="round"/></svg>
<div style="position:absolute;left:1677.06px;top:992.13px;font-size:15.8px;line-height:1;color:#64748b;white-space:nowrap;transform:scaleX(0.9805);transform-origin:0 0;">1-10 of 14</div>
<svg style="position:absolute;left:1750px;top:990px;overflow:visible" width="32" height="22" viewBox="1750 990 32 22" fill="none"><path d="M1762.8 995.3 L1757.9 1000.3 L1762.8 1005.3" stroke="#cbd5e1" stroke-width="1.4" stroke-linecap="round" stroke-linejoin="round"/><path d="M1771.9 995.3 L1776.8 1000.3 L1771.9 1005.3" stroke="#334155" stroke-width="1.4" stroke-linecap="round" stroke-linejoin="round"/></svg>
</div>
</body></html>
